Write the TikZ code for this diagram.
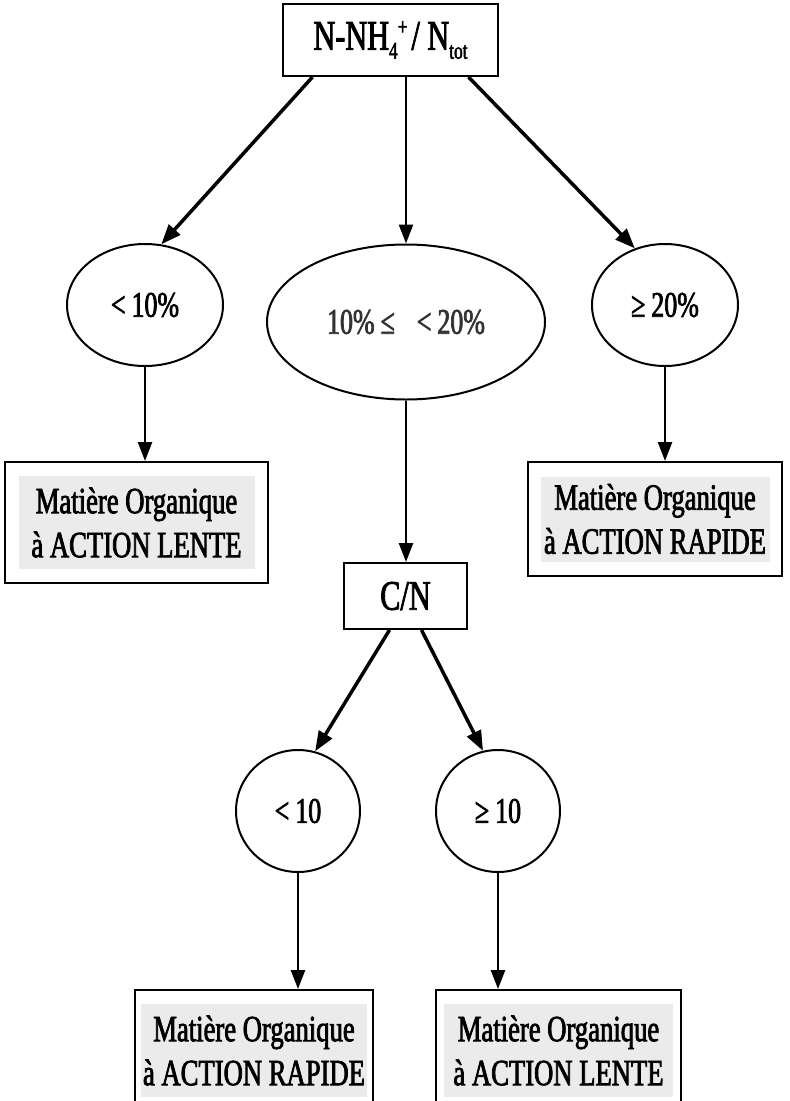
\documentclass[tikz,border=0pt]{standalone}
\usepackage{fontspec}
\setmainfont{Liberation Serif}
\newfontfamily\cond[FakeStretch=0.72,FakeBold=2]{Liberation Serif}
\usetikzlibrary{shapes.geometric,arrows.meta}
\definecolor{shadegray}{HTML}{EBEBEB}
\newcommand{\mysub}[1]{\raisebox{-9pt}{\fontsize{24}{24}\selectfont #1}}
\newcommand{\mysup}[1]{\raisebox{15pt}{\fontsize{24}{24}\selectfont #1}}
\begin{document}
\begin{tikzpicture}[x=1pt,y=-1pt,
  box/.style={draw, line width=2pt, rectangle, inner sep=0pt, font=\cond\fontsize{42}{46}\selectfont},
  outbox/.style={draw, line width=2pt, rectangle, inner sep=0pt},
  shadebox/.style={fill=shadegray, inner sep=0pt, align=center, font=\cond\fontsize{37}{44}\selectfont},
  oval/.style={ellipse, draw, line width=2pt, inner sep=0pt, font=\cond\fontsize{36}{40}\selectfont},
  diag/.style={line width=3.5pt, -{Triangle[length=20pt,width=15pt]}},
  vert/.style={line width=2.5pt, -{Triangle[length=19pt,width=14pt]}},
]
\useasboundingbox (0,0) rectangle (790,1101);
\clip (0,0) rectangle (790,1101);
\fill[white] (0,0) rectangle (790,1101);

% top
\node[box, minimum width=215pt, minimum height=72pt] (top) at (390.5,40)
  {N-NH\mysub{4}\mysup{+}\hspace{4pt}/ N\mysub{tot}};

% first level ellipses
\node[oval, minimum width=156pt, minimum height=122pt] (lt) at (145,305) {<\,10\%};
\node[oval, minimum width=278pt, minimum height=155pt, text=black!80] (mid) at (406,322)
  {10\%\,≤\hspace{22pt}<\,20\%};
\node[oval, minimum width=146pt, minimum height=122pt] (gt) at (665,305) {≥\,20\%};

% first level boxes
\node[outbox, minimum width=263pt, minimum height=121pt] (lb) at (136.5,522.5) {};
\node[shadebox, minimum width=236pt, minimum height=93pt] (lbt) at (lb.center)
  {Matière Organique\\à ACTION LENTE};
\node[outbox, minimum width=254pt, minimum height=114pt] (rb) at (655,519) {};
\node[shadebox, minimum width=229pt, minimum height=85pt] (rbt) at (rb.center)
  {Matière Organique\\à ACTION RAPIDE};

% C/N
\node[box, minimum width=123pt, minimum height=66pt] (cn) at (405.5,596) {C/N};

% second level circles
\node[oval, minimum width=124pt, minimum height=122pt] (c1) at (298,811) {<\,10};
\node[oval, minimum width=124pt, minimum height=122pt] (c2) at (498,811) {≥\,10};

% bottom boxes
\node[outbox, minimum width=238pt, minimum height=121pt] (bl) at (254,1050.5) {};
\node[shadebox, minimum width=226pt, minimum height=93pt] (blt) at (bl.center)
  {Matière Organique\\à ACTION RAPIDE};
\node[outbox, minimum width=245pt, minimum height=121pt] (br) at (558.5,1050.5) {};
\node[shadebox, minimum width=229pt, minimum height=93pt] (brt) at (br.center)
  {Matière Organique\\à ACTION LENTE};

% connectors
\draw[diag] ([xshift=-78pt]top.south) -- (lt.75);
\draw[vert] (mid.north |- top.south) -- (mid.north);
\draw[diag] ([xshift=78pt]top.south) -- (gt.118);
\draw[vert] (lt.south) -- (lt.south |- lb.north);
\draw[vert] (mid.south) -- (mid.south |- cn.north);
\draw[vert] (gt.south) -- (gt.south |- rb.north);
\draw[diag] ([xshift=-16pt]cn.south) -- (c1.74);
\draw[diag] ([xshift=16pt]cn.south) -- (c2.104);
\draw[vert] (c1.south) -- (c1.south |- bl.north);
\draw[vert] (c2.south) -- (c2.south |- br.north);
\end{tikzpicture}
\end{document}
